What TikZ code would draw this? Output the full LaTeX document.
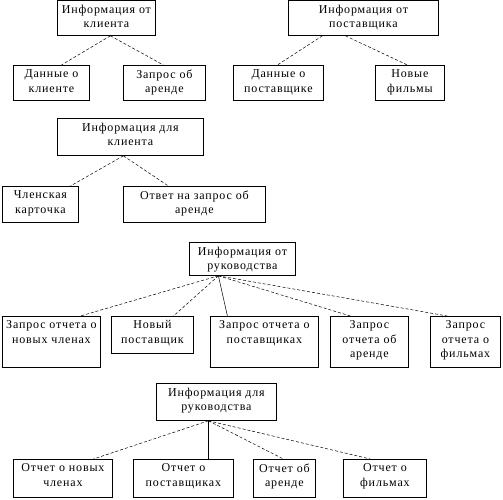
\documentclass[tikz,border=0pt]{standalone}
\usepackage{fontspec}
\setmainfont{Liberation Serif}[LetterSpace=7]
\tikzset{
    box/.style={draw, inner sep=0pt, anchor=north west, line width=0.8pt},
    txt/.style={anchor=north, yshift=-4.5pt, inner sep=0pt, align=center, font=\fontsize{12}{14.5}\selectfont},
    lbl/.style={label={[txt]north:{#1}}},
    link/.style={dash pattern=on 3pt off 2pt, line width=0.5pt},
    solidlink/.style={line width=0.5pt},
}

\begin{document}
\begin{tikzpicture}[x=1pt,y=-1pt]
\useasboundingbox (0,0) rectangle (503,499);
\node[box,minimum width=98pt,minimum height=35pt,lbl={Информация от\\клиента}] (ik) at (57,0) {};
\node[box,minimum width=150pt,minimum height=35pt,lbl={Информация от\\поставщика}] (ip) at (288,0) {};
\node[box,minimum width=76pt,minimum height=35pt,lbl={Данные о\\клиенте}] (ik1) at (13,65) {};
\node[box,minimum width=82pt,minimum height=35pt,lbl={Запрос об\\аренде}] (ik2) at (123,65) {};
\node[box,minimum width=90pt,minimum height=35pt,lbl={Данные о\\поставщике}] (ip1) at (233,65) {};
\node[box,minimum width=69pt,minimum height=35pt,lbl={Новые\\фильмы}] (ip2) at (375,65) {};
\draw[link] ([xshift=4pt]ik.south) -- ([xshift=10pt]ik1.north);
\draw[link] ([xshift=4pt]ik.south) -- ([xshift=-1pt]ik2.north);
\draw[link] ([xshift=-41pt]ip.south) -- ([xshift=-1pt]ip1.north);
\draw[link] ([xshift=-18pt]ip.south) -- ([xshift=-2.5pt]ip2.north);

\node[box,minimum width=146pt,minimum height=37pt,lbl={Информация для\\клиента}] (dk) at (57,118) {};
\node[box,minimum width=76pt,minimum height=36pt,lbl={Членская\\карточка}] (dk1) at (2,186) {};
\node[box,minimum width=142pt,minimum height=36pt,lbl={Ответ на запрос об\\аренде}] (dk2) at (123,186) {};
\draw[link] ([xshift=-7pt]dk.south) -- ([xshift=30pt]dk1.north);
\draw[link] ([xshift=-7pt]dk.south) -- ([xshift=-26pt]dk2.north);

\node[box,minimum width=106pt,minimum height=33pt,lbl={Информация от\\руководства}] (ir) at (189,242) {};
\node[box,minimum width=98pt,minimum height=51pt,lbl={Запрос отчета о\\новых членах}] (ir1) at (2,316) {};
\node[box,minimum width=82pt,minimum height=37pt,lbl={Новый\\поставщик}] (ir2) at (111,316) {};
\node[box,minimum width=108pt,minimum height=51pt,lbl={Запрос отчета о\\поставщиках}] (ir3) at (210,316) {};
\node[box,minimum width=78pt,minimum height=51pt,lbl={Запрос\\отчета об\\аренде}] (ir4) at (330,316) {};
\node[box,minimum width=70pt,minimum height=51pt,lbl={Запрос\\отчета о\\фильмах}] (ir5) at (430,316) {};
\draw[link] ([xshift=-24pt]ir.south) -- ([xshift=29pt]ir1.north);
\draw[link] ([xshift=-24pt]ir.south) -- ([xshift=21pt]ir2.north);
\draw[solidlink] ([xshift=-24pt]ir.south) -- ([xshift=-37pt]ir3.north);
\draw[link] ([xshift=-24pt]ir.south) -- ([xshift=-19pt]ir4.north);
\draw[link] ([xshift=-24pt]ir.south) -- ([xshift=-18pt]ir5.north);

\node[box,minimum width=120pt,minimum height=37pt,lbl={Информация для\\руководства}] (dr) at (156,383) {};
\node[box,minimum width=99pt,minimum height=38pt,lbl={Отчет о новых\\членах}] (dr1) at (13,459) {};
\node[box,minimum width=100pt,minimum height=38pt,lbl={Отчет о\\поставщиках}] (dr2) at (133,459) {};
\node[box,minimum width=62pt,minimum height=38pt,lbl={Отчет об\\аренде}] (dr3) at (253,459) {};
\node[box,minimum width=83pt,minimum height=38pt,lbl={Отчет о\\фильмах}] (dr4) at (343,459) {};
\draw[link] ([xshift=-8pt]dr.south) -- ([xshift=30.5pt]dr1.north);
\draw[solidlink] ([xshift=-8pt]dr.south) -- ([xshift=25pt]dr2.north);
\draw[link] ([xshift=-8pt]dr.south) -- ([xshift=-1pt]dr3.north);
\draw[link] ([xshift=-8pt]dr.south) -- ([xshift=-14.5pt]dr4.north);
\end{tikzpicture}
\end{document}
